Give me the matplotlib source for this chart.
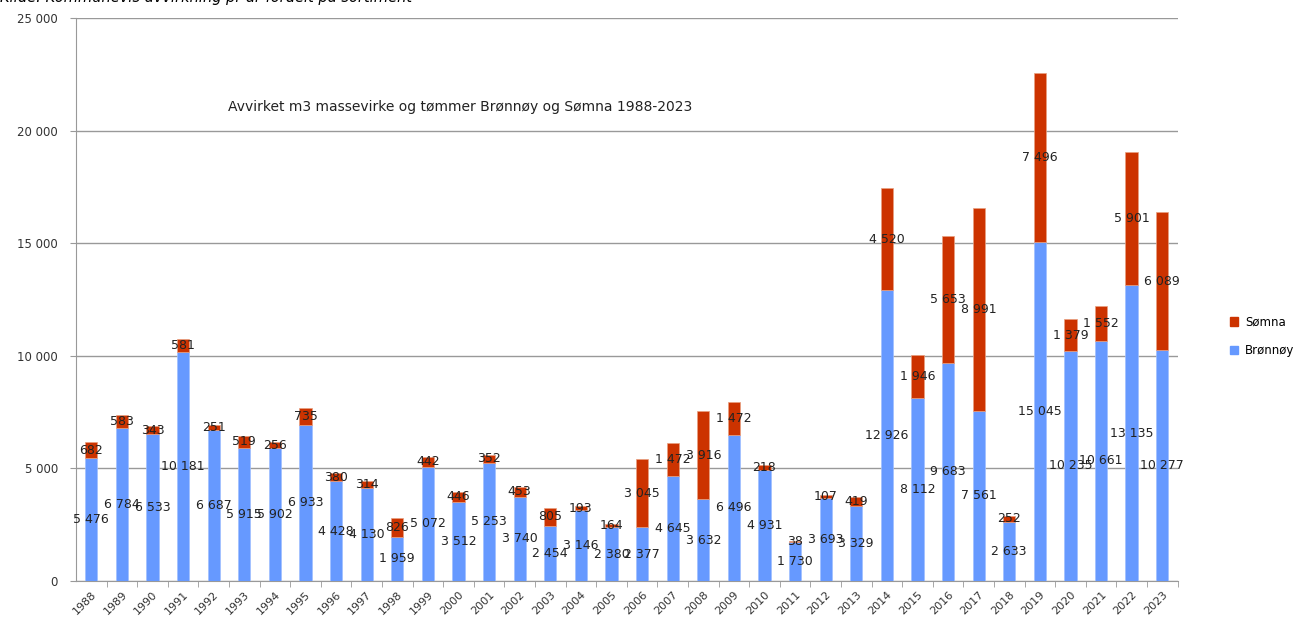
import numpy as np
import matplotlib
matplotlib.use('Agg')
import matplotlib.pyplot as plt
from matplotlib.patches import Patch

years = [str(y) for y in range(1988, 2024)]
bronnoy = [5476, 6784, 6533, 10181, 6687, 5915, 5902, 6933, 4428, 4130,
           1959, 5072, 3512, 5253, 3740, 2454, 3146, 2380, 2377, 4645,
           3632, 6496, 4931, 1730, 3693, 3329, 12926, 8112, 9683, 7561,
           2633, 15045, 10235, 10661, 13135, 10277]
somna = [682, 583, 343, 581, 251, 519, 256, 735, 380, 314,
         826, 442, 446, 352, 453, 805, 193, 164, 3045, 1472,
         3916, 1472, 218, 38, 107, 419, 4520, 1946, 5653, 8991,
         252, 7496, 1379, 1552, 5901, 6089]
yticks = [0, 5000, 10000, 15000, 20000, 25000]

BLUE = '#6699ff'
RED = '#cc3300'


def fmt(v):
    # norwegian thousands separator
    return f'{v:,}'.replace(',', ' ')


fig = plt.figure(figsize=(13.04, 6.17), dpi=100)
ax = fig.add_axes([0.0583, 0.0583, 0.8447, 0.9125])

x = np.arange(len(years))
b = np.array(bronnoy)
s = np.array(somna)
ax.bar(x, b, width=0.4, color=BLUE, edgecolor='#9fbfff', linewidth=0.5, zorder=3)
ax.bar(x, s, bottom=b, width=0.4, color=RED, edgecolor='#e8a080', linewidth=0.5, zorder=3)

for i in range(len(years)):
    ax.text(x[i], b[i] / 2, fmt(b[i]), ha='center', va='center',
            fontsize=9, color='#222222', zorder=4)
    ax.text(x[i], b[i] + s[i] / 2, fmt(s[i]), ha='center', va='center',
            fontsize=9, color='#222222', zorder=4)

ax.set_xlim(-0.5, len(years) - 0.5)
ax.set_ylim(0, 25000)
ax.set_yticks(yticks)
ax.set_yticklabels([fmt(v) for v in yticks], fontsize=8.5, color='#333333')
ax.yaxis.grid(True, color='#999999', linewidth=1, zorder=0)

ax.set_xticks(x)
ax.set_xticklabels(years, rotation=45, ha='right', rotation_mode='anchor',
                   fontsize=8, color='#333333')
ax.tick_params(axis='x', length=0, pad=6)
ax.set_xticks(np.arange(len(years)) + 0.5, minor=True)
ax.tick_params(axis='x', which='minor', length=4, color='#999999')
ax.tick_params(axis='y', length=4, color='#999999', pad=9)

for side in ['top', 'right']:
    ax.spines[side].set_visible(False)
ax.spines['left'].set_color('#999999')
ax.spines['bottom'].set_color('#999999')

ax.text(0.138, 0.842, 'Avvirket m3 massevirke og tømmer Brønnøy og Sømna 1988-2023',
        transform=ax.transAxes, fontsize=10, color='#222222', va='center')

handles = [Patch(color=RED, label='Sømna'), Patch(color=BLUE, label='Brønnøy')]
fig.legend(handles=handles, loc='center left', bbox_to_anchor=(0.935, 0.455),
           frameon=False, fontsize=8.5, handlelength=0.7, handleheight=0.7,
           labelspacing=1.3, handletextpad=0.6)

fig.text(0.0, 0.9968, 'Kilde: Kommunevis avvirkning pr år fordelt på sortiment',
         fontsize=10.5, style='italic', va='baseline', ha='left')

fig.savefig('out.png', dpi=100)
